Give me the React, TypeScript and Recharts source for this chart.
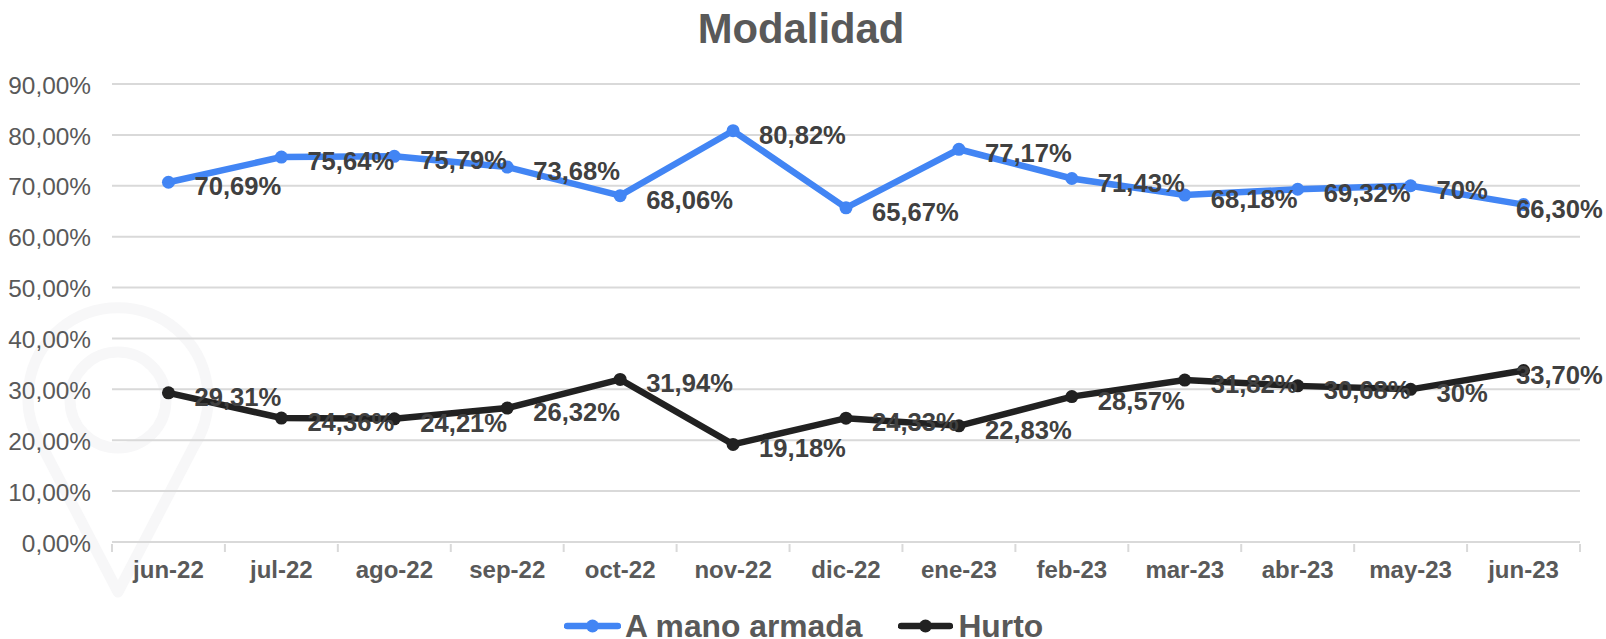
import { CartesianGrid, Legend, LabelList, Line, LineChart, XAxis, YAxis } from "recharts";

const MONTHS = ["jun-22", "jul-22", "ago-22", "sep-22", "oct-22", "nov-22", "dic-22", "ene-23", "feb-23", "mar-23", "abr-23", "may-23", "jun-23"];
const ARMADA = [70.69, 75.64, 75.79, 73.68, 68.06, 80.82, 65.67, 77.17, 71.43, 68.18, 69.32, 70, 66.3];
const HURTO = [29.31, 24.36, 24.21, 26.32, 31.94, 19.18, 24.33, 22.83, 28.57, 31.82, 30.68, 30, 33.7];
const Y_TICKS = [0, 10, 20, 30, 40, 50, 60, 70, 80, 90];

const BLUE = "#4285f4";
const BLACK = "#212121";
const GRID = "#d9d9d9";
const FONT = "'Liberation Sans', Arial, sans-serif";

const data = MONTHS.map((month, i) => ({ month, armada: ARMADA[i], hurto: HURTO[i] }));

const WIDTH = 1606;
const HEIGHT = 639;
const PLOT_LEFT = 112;
const PLOT_RIGHT = 26;
const BAND = (WIDTH - PLOT_LEFT - PLOT_RIGHT) / MONTHS.length;

function pct(v: number) {
  return v.toFixed(2).replace(".", ",").replace(",00", "") + "%";
}

function MonthTick({ x, y, payload, index }: any) {
  const left = x - BAND / 2;
  return (
    <g>
      <line x1={left} x2={left} y1={y - 8} y2={y} stroke={GRID} strokeWidth={2} />
      {index === MONTHS.length - 1 && (
        <line x1={left + BAND} x2={left + BAND} y1={y - 8} y2={y} stroke={GRID} strokeWidth={2} />
      )}
      <text x={x} y={y + 26} textAnchor="middle" fontFamily={FONT} fontSize={24} fontWeight={700} fill="#595959">
        {payload.value}
      </text>
    </g>
  );
}

function ValueLabel({ x, y, value }: any) {
  // labels sit to the right of the point, last one is pushed back inside the frame
  const left = Math.min(x + 26, 1516);
  return (
    <text x={left} y={y + 13} fontFamily={FONT} fontSize={25.6} fontWeight={700} fill="#404040">
      {pct(value)}
    </text>
  );
}

function Swatch({ color, width }: { color: string; width: number }) {
  return (
    <svg width={width} height={16} style={{ display: "block" }}>
      <line x1={3} x2={width - 3} y1={8} y2={8} stroke={color} strokeWidth={6.5} strokeLinecap="round" />
      <circle cx={width / 2} cy={8} r={6.5} fill={color} />
    </svg>
  );
}

function ChartLegend() {
  return (
    <div
      style={{
        display: "flex",
        alignItems: "center",
        height: 26,
        lineHeight: "26px",
        marginTop: 31,
        paddingLeft: 564,
        fontFamily: FONT,
        fontSize: 31.8,
        fontWeight: 700,
        color: "#595959",
        whiteSpace: "nowrap",
      }}
    >
      <Swatch color={BLUE} width={57} />
      <span style={{ marginLeft: 4, marginRight: 36 }}>A mano armada</span>
      <Swatch color={BLACK} width={55} />
      <span style={{ marginLeft: 5 }}>Hurto</span>
    </div>
  );
}

export default function App() {
  return (
    <div style={{ position: "absolute", left: 0, top: 0, width: WIDTH, height: HEIGHT, background: "#fff" }}>
      {/* faint location pin watermark behind the plot */}
      <svg width={WIDTH} height={HEIGHT} style={{ position: "absolute", left: 0, top: 0 }}>
        <g fill="none" stroke="#f7f7f8" strokeWidth={11}>
          <circle cx={118} cy={400} r={48} />
          <path d="M118 592 L42 446 A90 90 0 1 1 194 446 Z" strokeLinejoin="round" />
        </g>
      </svg>
      <div
        style={{
          position: "absolute",
          left: -2,
          top: 5,
          width: WIDTH,
          textAlign: "center",
          fontFamily: FONT,
          fontSize: 41.8,
          fontWeight: 700,
          color: "#595959",
        }}
      >
        Modalidad
      </div>
      <div style={{ position: "absolute", left: 0, top: 0 }}>
        <LineChart width={WIDTH} height={HEIGHT} data={data} margin={{ top: 84, right: PLOT_RIGHT, bottom: 0, left: 0 }}>
          <CartesianGrid vertical={false} stroke={GRID} strokeWidth={2} />
          <XAxis
            dataKey="month"
            interval={0}
            padding={{ left: BAND / 2, right: BAND / 2 }}
            height={40}
            axisLine={{ stroke: GRID, strokeWidth: 2 }}
            tickLine={false}
            tickSize={8}
            tick={<MonthTick />}
          />
          <YAxis
            domain={[0, 90]}
            ticks={Y_TICKS}
            width={PLOT_LEFT}
            axisLine={false}
            tickLine={false}
            tickSize={0}
            tickMargin={21}
            tickFormatter={(v: number) => v.toFixed(2).replace(".", ",") + "%"}
            tick={{ fontFamily: FONT, fontSize: 24.4, fill: "#595959", dy: 1 }}
          />
          <Legend verticalAlign="bottom" height={57} content={<ChartLegend />} />
          <Line
            dataKey="armada"
            name="A mano armada"
            stroke={BLUE}
            strokeWidth={6.5}
            strokeLinecap="round"
            dot={{ r: 6.5, fill: BLUE, stroke: BLUE, strokeWidth: 0 }}
            isAnimationActive={false}
          >
            <LabelList dataKey="armada" content={<ValueLabel />} />
          </Line>
          <Line
            dataKey="hurto"
            name="Hurto"
            stroke={BLACK}
            strokeWidth={6.5}
            strokeLinecap="round"
            dot={{ r: 6.5, fill: BLACK, stroke: BLACK, strokeWidth: 0 }}
            isAnimationActive={false}
          >
            <LabelList dataKey="hurto" content={<ValueLabel />} />
          </Line>
        </LineChart>
      </div>
    </div>
  );
}
